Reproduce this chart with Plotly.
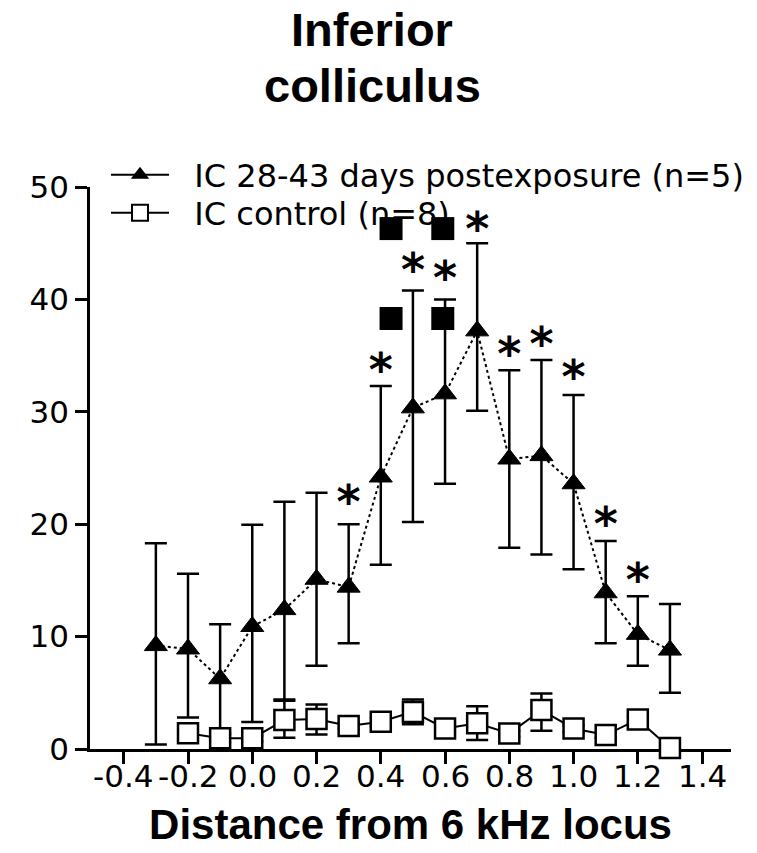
import plotly.graph_objects as go

# ---------------- data ----------------
x_exp = [-0.3, -0.2, -0.1, 0.0, 0.1, 0.2, 0.3, 0.4, 0.5, 0.6, 0.7, 0.8, 0.9, 1.0, 1.1, 1.2, 1.3]
exp_mean = [9.2, 8.9, 6.25, 10.9, 12.4, 15.1, 14.4, 24.2, 30.35, 31.6, 37.2, 25.8, 26.1, 23.6, 13.9, 10.2, 8.8]
exp_upper = [18.3, 15.6, 11.1, 19.95, 22.0, 22.8, 20.0, 32.3, 40.8, 40.0, 45.0, 33.7, 34.6, 31.5, 18.5, 13.6, 12.9]
exp_lower = [0.4, 2.8, 1.4, 2.4, 4.4, 7.4, 9.4, 16.4, 20.2, 23.6, 30.1, 17.9, 17.3, 16.0, 9.4, 7.4, 5.0]

x_ctl = [-0.2, -0.1, 0.0, 0.1, 0.2, 0.3, 0.4, 0.5, 0.6, 0.7, 0.8, 0.9, 1.0, 1.1, 1.2, 1.3]
ctl_mean = [1.4, 0.95, 0.95, 2.57, 2.66, 2.04, 2.42, 3.3, 1.83, 2.28, 1.39, 3.46, 1.83, 1.24, 2.63, 0.1]
ctl_upper = [1.7, 1.3, 1.2, 4.3, 3.95, 2.3, 2.8, 4.4, 2.1, 3.8, 1.6, 4.93, 2.1, 1.5, 2.9, 0.3]
ctl_lower = [1.1, 0.6, 0.7, 1.0, 1.3, 1.8, 2.0, 2.2, 1.5, 0.8, 1.1, 1.63, 1.5, 1.0, 2.3, 0.0]

# significance asterisks (vs control)
x_star = [0.3, 0.4, 0.5, 0.6, 0.7, 0.8, 0.9, 1.0, 1.1, 1.2]
star_level = [22.6, 34.3, 43.2, 42.5, 46.9, 35.7, 36.6, 33.7, 20.6, 15.6]

# filled-square significance markers
x_sq = [0.432, 0.593, 0.432, 0.593]
sq_level = [38.3, 38.3, 46.3, 46.3]

x_tickvals = [-0.4, -0.2, 0.0, 0.2, 0.4, 0.6, 0.8, 1.0, 1.2, 1.4]
x_ticktext = ["-0.4", "-0.2", "0.0", "0.2", "0.4", "0.6", "0.8", "1.0", "1.2", "1.4"]
y_tickvals = [0, 10, 20, 30, 40, 50]

name_exp = "IC 28-43 days postexposure (n=5)"
name_ctl = "IC control (n=8)"
title_lines = ["Inferior", "colliculus"]
x_title = "Distance from 6 kHz locus"

# ---------------- styling ----------------
SANS = "DejaVu Sans, Verdana, sans-serif"
ARIAL = "Liberation Sans, Arial, sans-serif"
LW = 2.5
W, H = 757, 853
L, R, T, B = 90, 26, 187, 104
PW, PH = W - L - R, H - T - B

fig = go.Figure()

# post-exposure series
fig.add_trace(go.Scatter(
    x=x_exp, y=exp_mean, mode="lines+markers", showlegend=False,
    line=dict(color="black", width=2, dash="dot"),
    marker=dict(symbol="triangle-up", size=20, color="black", line=dict(color="black", width=1)),
    error_y=dict(type="data", symmetric=False,
                 array=[u - m for u, m in zip(exp_upper, exp_mean)],
                 arrayminus=[m - l for m, l in zip(exp_mean, exp_lower)],
                 color="black", thickness=LW, width=11),
    cliponaxis=False,
))

# control series
fig.add_trace(go.Scatter(
    x=x_ctl, y=ctl_mean, mode="lines+markers", showlegend=False,
    line=dict(color="black", width=2),
    marker=dict(symbol="square", size=20, color="white", line=dict(color="black", width=LW)),
    error_y=dict(type="data", symmetric=False,
                 array=[u - m for u, m in zip(ctl_upper, ctl_mean)],
                 arrayminus=[m - l for m, l in zip(ctl_mean, ctl_lower)],
                 color="black", thickness=LW, width=11),
    cliponaxis=False,
))

# filled squares
fig.add_trace(go.Scatter(
    x=x_sq, y=sq_level, mode="markers", showlegend=False,
    marker=dict(symbol="square", size=23, color="black", line=dict(width=0)),
    cliponaxis=False,
))

# asterisks (glyph sits high in the em box, so lower the anchor a bit)
STAR_SIZE = 46
star_drop = 1.0
fig.add_trace(go.Scatter(
    x=x_star, y=[s - star_drop for s in star_level], mode="text", text=["*"] * len(x_star),
    textposition="middle center", showlegend=False,
    textfont=dict(family=SANS, size=STAR_SIZE, color="black", weight="bold"),
    cliponaxis=False,
))

# legend entries
PAD = "\u00a0\u00a0"
fig.add_trace(go.Scatter(
    x=[None], y=[None], mode="lines+markers", name=PAD + name_exp, legend="legend",
    line=dict(color="black", width=2),
    marker=dict(symbol="triangle-up", size=20, color="black"),
))
fig.add_trace(go.Scatter(
    x=[None], y=[None], mode="lines+markers", name=PAD + name_ctl, legend="legend2",
    line=dict(color="black", width=2),
    marker=dict(symbol="square", size=18, color="white", line=dict(color="black", width=2)),
))

leg_common = dict(font=dict(family=SANS, size=32, color="black"), bgcolor="rgba(0,0,0,0)",
                  borderwidth=0, xanchor="left", yanchor="middle", itemwidth=58)
LEG_X = (106 - L) / PW

fig.update_layout(
    width=W, height=H,
    margin=dict(l=L, r=R, t=T, b=B, pad=0, autoexpand=False),
    paper_bgcolor="white", plot_bgcolor="white",
    legend=dict(x=LEG_X, y=1 + (T - 175) / PH, **leg_common),
    legend2=dict(x=LEG_X, y=1 + (T - 213) / PH, **leg_common),
    xaxis=dict(range=[-0.505, 1.49], tickvals=x_tickvals, showticklabels=False,
               automargin=False,
               showgrid=False, zeroline=False, showline=True, linecolor="black", linewidth=LW,
               ticks="outside", ticklen=12, tickwidth=LW, tickcolor="black",
               layer="below traces",
               title=dict(text=x_title, standoff=47,
                          font=dict(family=ARIAL, size=42, color="black", weight="bold"))),
    yaxis=dict(range=[0, 50], tickvals=y_tickvals, automargin=False,
               showgrid=False, zeroline=False, showline=True, linecolor="black", linewidth=LW,
               ticks="outside", ticklen=12, tickwidth=LW, tickcolor="black",
               tickfont=dict(family=SANS, size=31, color="black"),
               layer="below traces"),
)

# x tick labels (hyphen minus, set close under the ticks as in the original)
for tv, tt in zip(x_tickvals, x_ticktext):
    fig.add_annotation(text=tt, xref="x", yref="paper", x=tv, y=0,
                       xanchor="center", yanchor="top", yshift=-8, showarrow=False,
                       borderpad=0, font=dict(family=SANS, size=31, color="black"))

# two-line title, placed in page pixels via paper coordinates
for line, cy in zip(title_lines, [30, 85]):
    fig.add_annotation(text=line, xref="paper", yref="paper",
                       x=(372 - L) / PW, y=1 + (T - cy) / PH,
                       xanchor="center", yanchor="middle", showarrow=False,
                       font=dict(family=ARIAL, size=47, color="black", weight="bold"))

fig.write_html("out.html")
